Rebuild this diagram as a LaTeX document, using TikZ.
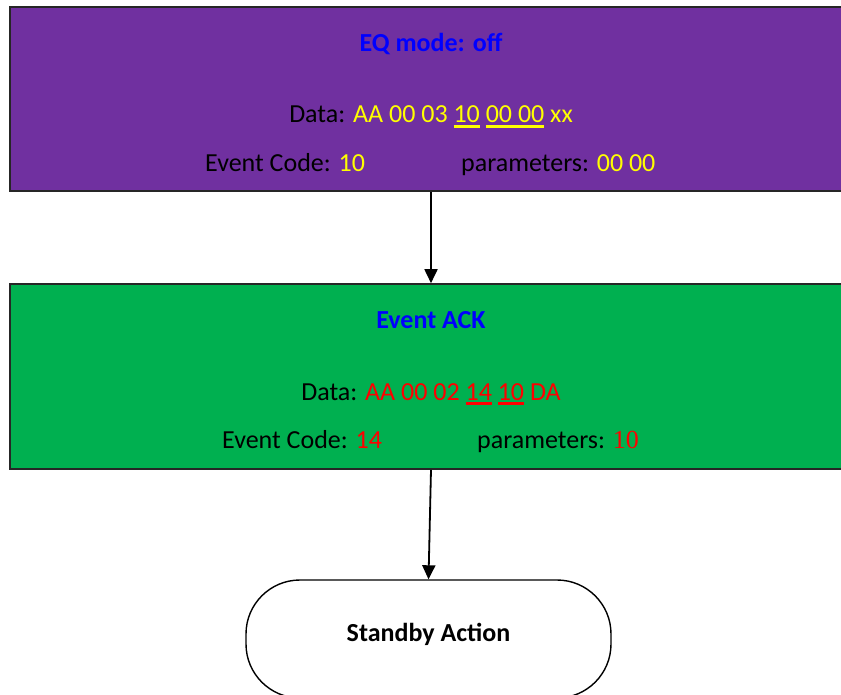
\documentclass[tikz,border=0pt]{standalone}
\usepackage{fontspec}
\setmainfont{Carlito}
\newfontfamily\serifnum{Liberation Serif}
\definecolor{eqpurple}{HTML}{7030A0}
\definecolor{ackgreen}{HTML}{00B050}
\definecolor{titleblue}{HTML}{0000FF}
\definecolor{byteyellow}{HTML}{FFFF00}
\definecolor{bytered}{HTML}{FF0000}
\usetikzlibrary{arrows.meta, positioning}
% underline a group of bytes in the current colour
\newcommand{\byteul}[1]{\setbox0=\hbox{#1}\rlap{\rule[-5pt]{\wd0}{3pt}}#1}

\begin{document}
\begin{tikzpicture}[x=1pt, y=-1pt,
    evbox/.style={draw=black!85, line width=1.6pt, minimum width=842pt, inner sep=0pt},
    terminal/.style={draw=black, line width=1.4pt, fill=white, rounded corners=54pt,
                     minimum width=365pt, minimum height=118pt, inner sep=0pt},
    txt/.style={font=\fontsize{26}{31}\selectfont, inner sep=0pt},
    ttl/.style={txt, font=\fontsize{26}{31}\selectfont\bfseries},
    link/.style={-{Triangle[width=13pt,length=14pt]}, line width=1.8pt}]
                \useasboundingbox (0,0) rectangle (841,695);
                \clip (0,0) rectangle (841,695);

                % Event box
                \node[evbox, fill=eqpurple, minimum height=184pt] (eqbox) at (431,99) {};
                \node[ttl, titleblue, anchor=base] (eqtitle) at (431,52) {EQ mode: off};
                \node[txt, anchor=base] (eqdata) at (431,123)
                    {Data: \textcolor{byteyellow}{AA 00 03 \byteul{10} \byteul{00 00} xx}};
                \node[txt, anchor=base west] (eqcode) at (205,172)
                    {Event Code: \textcolor{byteyellow}{10}};
                \node[txt, anchor=base west] (eqpar) at (461,172)
                    {parameters: \textcolor{byteyellow}{00 00}};

                % ACK box
                \node[evbox, fill=ackgreen, minimum height=185pt] (ackbox) at (431,376.5) {};
                \node[ttl, titleblue, anchor=base] (acktitle) at (431,328) {Event ACK};
                \node[txt, anchor=base] (ackdata) at (431,400)
                    {Data: \textcolor{bytered}{AA 00 02 \byteul{14} \byteul{10} DA}};
                \node[txt, anchor=base west] (ackcode) at (222,448)
                    {Event Code: \textcolor{bytered}{14}};
                \node[txt, anchor=base west] (ackpar) at (477,448)
                    {parameters: \textcolor{bytered}{\serifnum 10}};

                % Terminator
                \node[terminal] (standby) at (428.5,639) {};
                \node[ttl, anchor=base] (standbytext) at (428.5,641) {Standby Action};

                \draw[link] (eqbox.south) -- (ackbox.north);
                \draw[link] (ackbox.south) -- (standby.north);
            \end{tikzpicture}
\end{document}
